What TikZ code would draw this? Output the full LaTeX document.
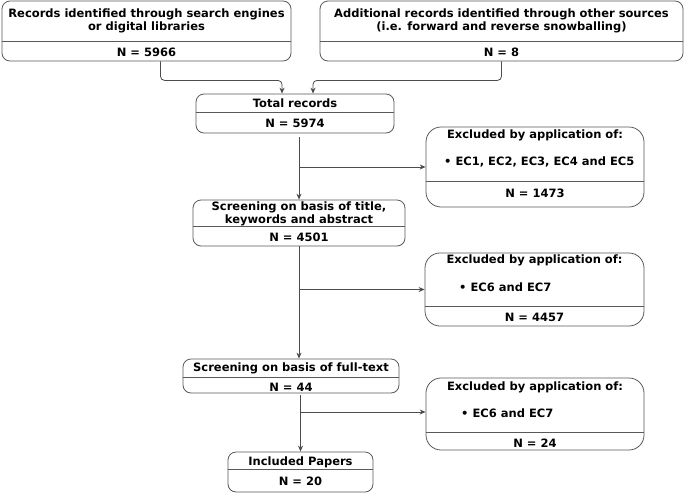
\documentclass[tikz,border=0pt]{standalone}
\usepackage{fontspec}
\setmainfont{DejaVu Sans}
\usetikzlibrary{arrows.meta}

\begin{document}
\begin{tikzpicture}[x=1pt, y=-1pt, font=\bfseries\fontsize{11.5}{13}\selectfont,
		box/.style={draw=black!65, line width=0.8pt, rounded corners=8pt, inner sep=0pt},
		exbox/.style={box, rounded corners=15pt},
		txt/.style={inner sep=0pt, align=center},
		link/.style={draw=black!70, line width=0.8pt, -{Stealth[length=6pt, width=5pt]}}]
			\useasboundingbox (0,0) rectangle (685,493);
			
			% Draw boxes
			\node[box, minimum width=289, minimum height=60] (search) at (146.5,31) {};
			\node[box, minimum width=363, minimum height=60] (other) at (501.5,31) {};
			\node[box, minimum width=198, minimum height=39] (total) at (295,113.5) {};
			\node[exbox, minimum width=218, minimum height=80] (exone) at (535,167) {};
			\node[box, minimum width=212, minimum height=46] (screen) at (299,223) {};
			\node[exbox, minimum width=219, minimum height=73] (extwo) at (534.5,289.5) {};
			\node[box, minimum width=216, minimum height=34] (fulltext) at (291,376) {};
			\node[exbox, minimum width=218, minimum height=72] (exthree) at (535,414) {};
			\node[box, minimum width=145, minimum height=40] (included) at (300.5,472) {};
			
			% Dividers
			\draw[black!65, line width=0.8pt] (search.west |- 0,41) -- (search.east |- 0,41);
			\draw[black!65, line width=0.8pt] (other.west |- 0,41) -- (other.east |- 0,41);
			\draw[black!65, line width=0.8pt] (total.west |- 0,112) -- (total.east |- 0,112);
			\draw[black!65, line width=0.8pt] (exone.west |- 0,181) -- (exone.east |- 0,181);
			\draw[black!65, line width=0.8pt] (screen.west |- 0,226) -- (screen.east |- 0,226);
			\draw[black!65, line width=0.8pt] (extwo.west |- 0,306) -- (extwo.east |- 0,306);
			\draw[black!65, line width=0.8pt] (fulltext.west |- 0,377) -- (fulltext.east |- 0,377);
			\draw[black!65, line width=0.8pt] (exthree.west |- 0,432) -- (exthree.east |- 0,432);
			\draw[black!65, line width=0.8pt] (included.west |- 0,469) -- (included.east |- 0,469);
			
			% Texts
			\node[txt] (search-t) at (146.5,21) {Records identified through search engines\\or digital libraries};
			\node[txt] (search-n) at (146.5,52) {N = 5966};
			\node[txt] (other-t) at (501.5,21) {Additional records identified through other sources\\(i.e. forward and reverse snowballing)};
			\node[txt] (other-n) at (501.5,52) {N = 8};
			\node[txt] (total-t) at (295,103) {Total records};
			\node[txt] (total-n) at (295,123) {N = 5974};
			\node[txt] (exone-t) at (535,135) {Excluded by application of:};
			\node[txt, anchor=west] (exone-l) at (444,162) {\textbullet\ EC1, EC2, EC3, EC4 and EC5};
			\node[txt] (exone-n) at (535,193) {N = 1473};
			\node[txt] (screen-t) at (299,213.5) {Screening on basis of title,\\keywords and abstract};
			\node[txt] (screen-n) at (299,237) {N = 4501};
			\node[txt] (extwo-t) at (534.5,260) {Excluded by application of:};
			\node[txt, anchor=west] (extwo-l) at (459,287) {\textbullet\ EC6 and EC7};
			\node[txt] (extwo-n) at (534.5,317) {N = 4457};
			\node[txt] (fulltext-t) at (291,368) {Screening on basis of full-text};
			\node[txt] (fulltext-n) at (291,387) {N = 44};
			\node[txt] (exthree-t) at (535,387) {Excluded by application of:};
			\node[txt, anchor=west] (exthree-l) at (461,413) {\textbullet\ EC6 and EC7};
			\node[txt] (exthree-n) at (535,443) {N = 24};
			\node[txt] (included-t) at (300.5,462) {Included Papers};
			\node[txt] (included-n) at (300.5,481) {N = 20};
			
			% Connectors
			\draw[link, rounded corners=4pt] ([xshift=14pt]search.south) -- ++(0,19) -| ([xshift=-13pt]total.north);
			\draw[link, rounded corners=4pt] (other.south) -- ++(0,19) -| ([xshift=18pt]total.north);
			\draw[link, shorten <=4pt] ([xshift=4pt]total.south) -- (screen.north);
			\draw[link] (exone.west -| screen.north) -- (exone.west);
			\draw[link] (screen.south) -- (screen.south |- fulltext.north);
			\draw[link] (extwo.west -| screen.south) -- (extwo.west);
			\draw[link, shorten <=2pt] (included.north |- fulltext.south) -- (included.north);
			\draw[link] ([yshift=2pt]exthree.west -| included.north) -- ([yshift=2pt]exthree.west);
		\end{tikzpicture}
\end{document}
